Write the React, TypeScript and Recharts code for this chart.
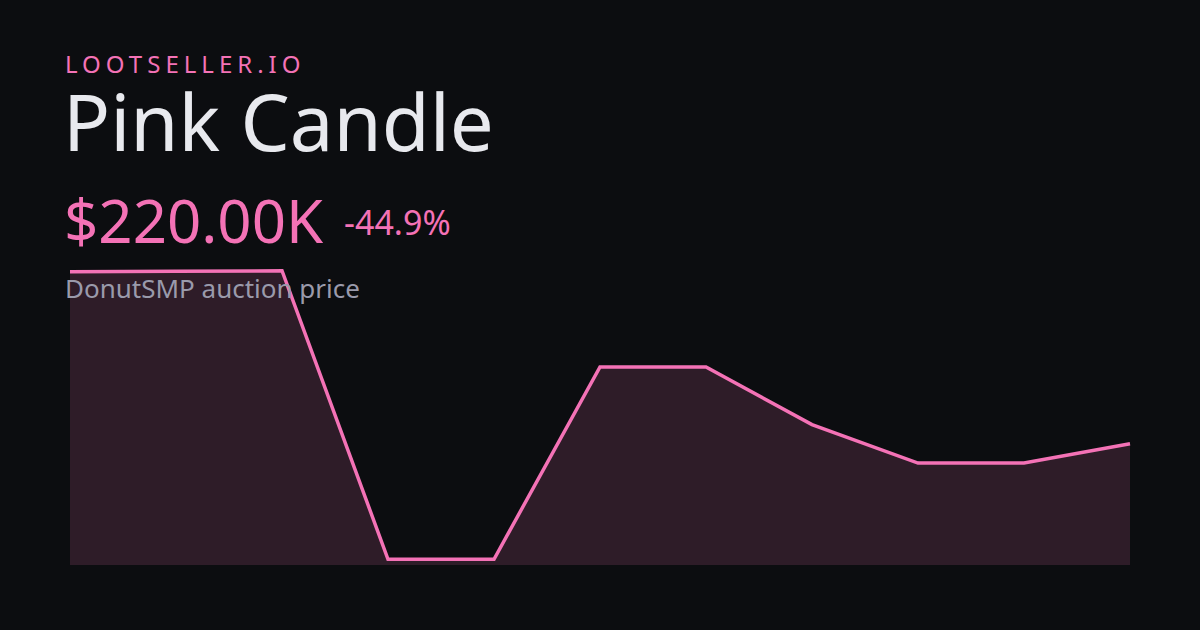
import React from 'react';
import { AreaChart, Area, XAxis, YAxis } from 'recharts';

const days = ['d1', 'd2', 'd3', 'd4', 'd5', 'd6', 'd7', 'd8', 'd9', 'd10', 'd11'];
const prices = [399, 399.5, 400, 100, 100, 300, 300, 240, 200, 200, 220];

const brand = 'LOOTSELLER.IO';
const itemName = 'Pink Candle';
const priceLabel = '$220.00K';
const changeLabel = '-44.9%';
const subtitle = 'DonutSMP auction price';

const data = days.map((d, i) => ({ day: d, price: prices[i] }));

const BG = '#0c0d10';
const PINK = '#f472b6';

export default function App() {
  const font = '"Noto Sans", "Open Sans", sans-serif';
  return (
    <div style={{ position: 'fixed', left: 0, top: 0, width: 1200, height: 630, background: BG, overflow: 'hidden' }}>
      <div style={{ position: 'absolute', left: 0, top: 0 }}>
        <AreaChart width={1200} height={630} data={data} margin={{ top: 265, right: 70, bottom: 65, left: 70 }}>
          <XAxis dataKey="day" hide />
          <YAxis
            hide
            domain={[(min: number) => min - 6, (max: number) => max + 6]}
          />
          <Area
            type="linear"
            dataKey="price"
            stroke={PINK}
            strokeWidth={3.5}
            fill={PINK}
            fillOpacity={0.15}
            isAnimationActive={false}
            dot={false}
            activeDot={false}
          />
        </AreaChart>
      </div>
      <svg width={1200} height={630} style={{ position: 'absolute', left: 0, top: 0, pointerEvents: 'none' }}>
        <text x={65} y={73} fill={PINK} fontFamily={font} fontSize={24} letterSpacing={5}>{brand}</text>
        <text x={63} y={151} fill="#e8e9ee" fontFamily={font} fontSize={78}>{itemName}</text>
        <text x={64} y={243} fill={PINK} fontFamily={font} fontSize={60}>{priceLabel}</text>
        <text x={344} y={235} fill={PINK} fontFamily={font} fontSize={34}>{changeLabel}</text>
        <text x={65} y={298} fill="#9a9aab" fontFamily={font} fontSize={26}>{subtitle}</text>
      </svg>
    </div>
  );
}
